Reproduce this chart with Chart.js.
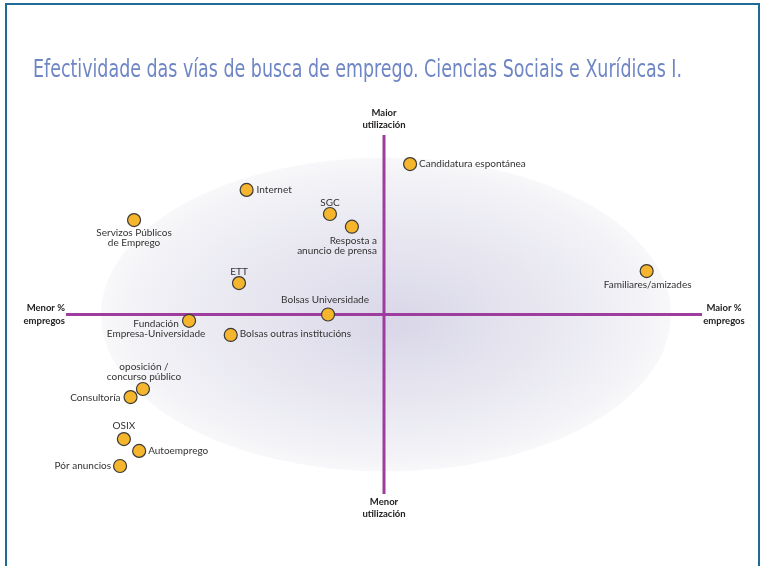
<!DOCTYPE html>
<html>
<head>
<meta charset="utf-8">
<script src="https://cdn.jsdelivr.net/npm/chart.js@4.4.0/dist/chart.umd.min.js"></script>
<style>
html,body{margin:0;padding:0;background:#fff;}
#wrap{position:relative;width:762px;height:566px;}
canvas{display:block;}
</style>
</head>
<body>
<div id="wrap"><canvas id="c" width="762" height="566"></canvas></div>
<script>
// ---- data ----
const titleText = "Efectividade das vías de busca de emprego. Ciencias Sociais e Xurídicas I.";
const categories = [
  "Candidatura espontánea",
  "Internet",
  "SGC",
  "Resposta a\nanuncio de prensa",
  "Servizos Públicos\nde Emprego",
  "ETT",
  "Familiares/amizades",
  "Bolsas Universidade",
  "Fundación\nEmpresa-Universidade",
  "Bolsas outras institucións",
  "oposición /\nconcurso público",
  "Consultoría",
  "OSIX",
  "Autoemprego",
  "Pór anuncios"
];
// x: % empregos (effectiveness), y: utilización (relative to the axes crossing)
const empregos    = [0.82, -4.32, -1.70, -1.01, -7.86, -4.56, 8.26, -1.76, -6.13, -4.82, -7.58, -7.97, -8.18, -7.70, -8.30];
const utilizacion = [8.38,  6.94,  5.60,  4.89,  5.26,  1.75, 2.42,  0.00, -0.35, -1.14, -4.15, -4.60, -6.94, -7.60, -8.44];
const axisLabels = {
  top: ["Maior", "utilización"],
  bottom: ["Menor", "utilización"],
  left: ["Menor %", "empregos"],
  right: ["Maior %", "empregos"]
};

// ---- label placement (style, not data) ----
// [dx, dy, align] relative to point centre; dy is the first line's middle
const labelPlace = [
  [9, 0, "left"],
  [10, 0, "left"],
  [0, -11.5, "center"],
  [25, 14, "right"],
  [0, 13, "center"],
  [0, -11.5, "center"],
  [1, 14, "center"],
  [-3, -14.5, "center"],
  [-33, 3, "center"],
  [9, -1, "left"],
  [1, -22.5, "center"],
  [-10, 0.5, "left-r"],
  [0, -13.5, "center"],
  [9, 0, "left"],
  [-9, 0, "left-r"]
];

const points = empregos.map((x, i) => ({x: x, y: utilizacion[i]}));

const ellipsePlugin = {
  id: 'bgEllipse',
  beforeDatasetsDraw(chart) {
    const {ctx, scales} = chart;
    const cx = scales.x.getPixelForValue(0) + 2;
    const cy = scales.y.getPixelForValue(0);
    const rx = 285, ry = 157;
    ctx.save();
    ctx.translate(cx, cy);
    ctx.scale(1, ry / rx);
    const g = ctx.createRadialGradient(15, 15, 0, 0, 0, rx);
    g.addColorStop(0, '#d9d7e8');
    g.addColorStop(0.5, '#e7e6f0');
    g.addColorStop(0.85, '#f1f1f6');
    g.addColorStop(1, '#f8f8fa');
    ctx.fillStyle = g;
    ctx.beginPath();
    ctx.arc(0, 0, rx, 0, Math.PI * 2);
    ctx.fill();
    ctx.restore();

    // cross axes
    const area = chart.chartArea;
    ctx.save();
    ctx.strokeStyle = '#9e3d9e';
    ctx.lineWidth = 3;
    ctx.beginPath();
    ctx.moveTo(area.left, cy);
    ctx.lineTo(area.right, cy);
    ctx.moveTo(cx - 2, area.top);
    ctx.lineTo(cx - 2, area.bottom);
    ctx.stroke();
    ctx.restore();
  }
};

const decorPlugin = {
  id: 'decor',
  beforeDraw(chart) {
    const ctx = chart.ctx;
    ctx.save();
    ctx.fillStyle = '#fff';
    ctx.fillRect(0, 0, chart.width, chart.height);
    ctx.restore();
  },
  afterDraw(chart) {
    const {ctx, scales} = chart;
    const area = chart.chartArea;
    ctx.save();
    // frame
    ctx.strokeStyle = '#1f6b98';
    ctx.lineWidth = 2;
    ctx.beginPath();
    ctx.moveTo(6, 566);
    ctx.lineTo(6, 4);
    ctx.lineTo(759, 4);
    ctx.lineTo(759, 566);
    ctx.stroke();

    // title
    ctx.fillStyle = '#6f86c5';
    ctx.font = "24px 'Liberation Sans Narrow', 'DejaVu Sans Condensed', sans-serif";
    ctx.textBaseline = 'alphabetic';
    ctx.textAlign = 'left';
    const tw = ctx.measureText(titleText).width;
    const target = 649;
    ctx.save();
    ctx.translate(33, 77);
    ctx.scale(target / tw, 1);
    ctx.fillText(titleText, 0, 0);
    ctx.restore();

    // axis labels
    const cx = scales.x.getPixelForValue(0);
    const cy = scales.y.getPixelForValue(0);
    ctx.fillStyle = '#222';
    ctx.font = "bold 9.5px Lato, 'Open Sans', sans-serif";
    ctx.textBaseline = 'middle';
    ctx.textAlign = 'center';
    ctx.fillText(axisLabels.top[0], cx, area.top - 22);
    ctx.fillText(axisLabels.top[1], cx, area.top - 10);
    ctx.fillText(axisLabels.bottom[0], cx, area.bottom + 8);
    ctx.fillText(axisLabels.bottom[1], cx, area.bottom + 20);
    ctx.textAlign = 'right';
    ctx.fillText(axisLabels.left[0], area.left - 1, cy - 7);
    ctx.fillText(axisLabels.left[1], area.left - 1, cy + 6);
    ctx.textAlign = 'center';
    ctx.fillText(axisLabels.right[0], area.right + 22, cy - 7);
    ctx.fillText(axisLabels.right[1], area.right + 22, cy + 6);

    // point labels
    ctx.fillStyle = '#333';
    ctx.font = "10px Lato, 'Open Sans', sans-serif";
    const meta = chart.getDatasetMeta(0);
    meta.data.forEach((el, i) => {
      const [dx, dy, al] = labelPlace[i];
      const lines = categories[i].split('\n');
      ctx.textAlign = al === 'left-r' ? 'right' : al;
      lines.forEach((ln, k) => {
        ctx.fillText(ln, el.x + dx, el.y + dy + k * 10);
      });
    });
    ctx.restore();
  }
};

new Chart(document.getElementById('c'), {
  type: 'scatter',
  data: {
    datasets: [{
      data: points,
      pointRadius: 6.5,
      pointHoverRadius: 6.5,
      pointBackgroundColor: '#f5b52c',
      pointBorderColor: '#3a3a3a',
      pointBorderWidth: 1.2
    }]
  },
  options: {
    responsive: false,
    animation: false,
    devicePixelRatio: 1,
    layout: { padding: { left: 66, right: 60, top: 135, bottom: 72 } },
    scales: {
      x: { type: 'linear', min: -10, max: 10, display: false },
      y: { type: 'linear', min: -10, max: 10, display: false }
    },
    plugins: {
      legend: { display: false },
      tooltip: { enabled: false },
      title: { display: false }
    }
  },
  plugins: [ellipsePlugin, decorPlugin]
});
</script>
</body>
</html>
